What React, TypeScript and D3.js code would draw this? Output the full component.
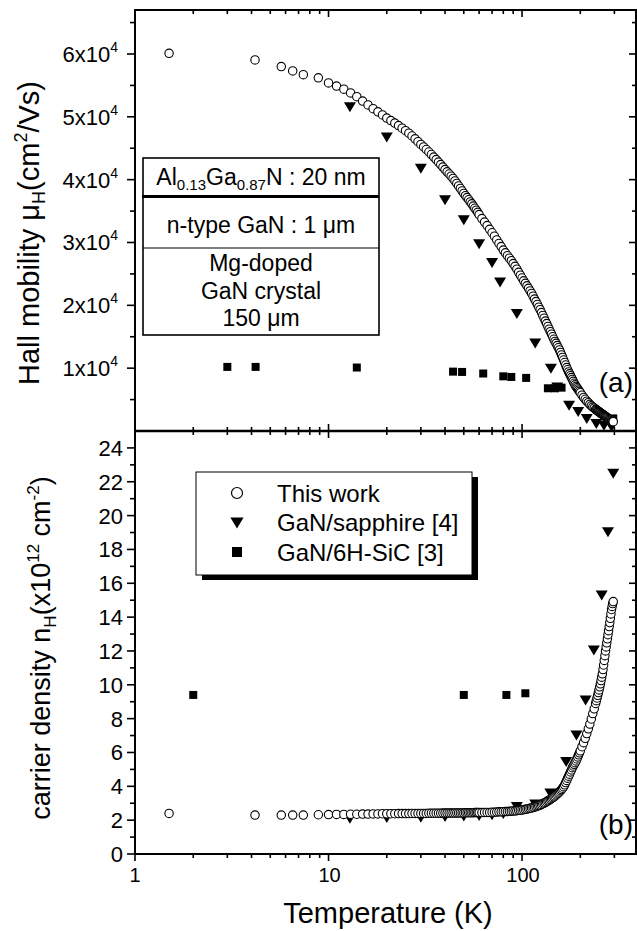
import React from "react";
import * as d3 from "d3";

// ---------- data ----------
const tempThis = [1.5, 4.17, 5.7, 6.53, 7.41, 8.86, 10, 11, 12, 13, 14, 15, 16, 17, 18, 19, 20,
  21, 22, 23, 24, 25, 26, 27, 28, 29, 30, 31, 32, 33, 34, 35, 36, 37, 38, 39, 40,
  41, 42, 43, 44, 45, 46, 47, 48, 49, 50, 51, 52, 53, 54, 55, 56, 57, 58, 59, 60,
  62, 64, 66, 68, 70, 72, 74, 76, 78, 80, 82, 84, 86, 88, 90, 92, 94, 96, 98, 100,
  102, 104, 106, 108, 110, 112, 114, 116, 118, 120, 122, 124, 126, 128, 130, 132, 134, 136, 138, 140,
  142, 144, 146, 148, 150, 152, 154, 156, 158, 160, 162, 164, 166, 168, 170, 172, 174, 176, 178, 180,
  182, 184, 186, 188, 190, 192, 194, 196, 198, 200,
  204, 208, 212, 216, 220, 224, 228, 232, 236, 240,
  242, 244, 246, 248, 250, 252, 254, 256, 258, 260, 262, 264, 266, 268, 270,
  272, 274, 276, 278, 280, 282, 284, 286, 288, 290, 292, 294, 296];
const mobilityThis = [60100, 59050, 58000, 57300, 56700, 56200, 55400, 54900, 54400, 53800, 53200, 52500, 51900, 51300, 50800, 50300, 49800,
  49400, 49000, 48600, 48200, 47800, 47400, 46950, 46500, 46050, 45600, 45200, 44800, 44400, 44000, 43600, 43200, 42800, 42400, 42000, 41600,
  41250, 40900, 40550, 40200, 39800, 39400, 39000, 38600, 38200, 37800, 37450, 37150, 36800, 36450, 36150, 35800, 35450, 35150, 34800, 34450,
  33800, 33250, 32700, 32100, 31550, 31000, 30400, 29850, 29350, 28800, 28350, 27900, 27500, 27100, 26650, 26200, 25750, 25250, 24800, 24350,
  23900, 23500, 23100, 22700, 22300, 21900, 21450, 21000, 20600, 20150, 19700, 19300, 18850, 18400, 17950, 17500, 17100, 16650, 16200, 15800,
  15400, 15000, 14600, 14250, 13950, 13600, 13250, 12900, 12500, 12100, 11700, 11300, 10900, 10500, 10100, 9750, 9400, 9100, 8800, 8500,
  8200, 7900, 7600, 7350, 7100, 6900, 6700, 6500, 6300, 6100,
  5700, 5350, 5050, 4750, 4500, 4250, 4000, 3800, 3650, 3450,
  3370, 3290, 3210, 3130, 3050, 2970, 2890, 2810, 2730, 2650, 2590, 2530, 2460, 2380, 2300,
  2240, 2180, 2110, 2030, 1950, 1890, 1830, 1770, 1710, 1650, 1590, 1530, 1480];
const densityThis = [2.40, 2.30, 2.30, 2.30, 2.30, 2.32, 2.33, 2.34, 2.34, 2.35, 2.35, 2.36, 2.36, 2.37, 2.37, 2.38, 2.38,
  2.38, 2.38, 2.39, 2.39, 2.39, 2.39, 2.40, 2.40, 2.40, 2.40, 2.40, 2.40, 2.41, 2.41, 2.41, 2.41, 2.41, 2.41, 2.42, 2.42,
  2.42, 2.42, 2.42, 2.42, 2.43, 2.43, 2.43, 2.43, 2.43, 2.43, 2.44, 2.44, 2.44, 2.44, 2.44, 2.44, 2.45, 2.45, 2.45, 2.45,
  2.45, 2.46, 2.46, 2.46, 2.47, 2.47, 2.48, 2.49, 2.49, 2.50, 2.51, 2.51, 2.52, 2.53, 2.54, 2.55, 2.56, 2.58, 2.59, 2.60,
  2.62, 2.64, 2.66, 2.68, 2.70, 2.72, 2.75, 2.77, 2.80, 2.83, 2.86, 2.89, 2.93, 2.97, 3.01, 3.05, 3.09, 3.14, 3.18, 3.23,
  3.28, 3.33, 3.38, 3.43, 3.49, 3.55, 3.61, 3.67, 3.74, 3.81, 3.89, 3.98, 4.09, 4.22, 4.35, 4.48, 4.60, 4.72, 4.85, 4.97,
  5.10, 5.20, 5.30, 5.40, 5.50, 5.62, 5.74, 5.86, 5.98, 6.10,
  6.34, 6.58, 6.84, 7.12, 7.40, 7.68, 7.98, 8.30, 8.58, 8.90,
  9.06, 9.22, 9.38, 9.54, 9.70, 9.88, 10.06, 10.25, 10.45, 10.65, 10.90, 11.17, 11.44, 11.72, 12.00,
  12.24, 12.48, 12.72, 12.96, 13.20, 13.44, 13.68, 13.93, 14.19, 14.45, 14.63, 14.80, 14.92];

const tempSapMob = [12.9, 20, 30, 40, 50, 60, 70, 77, 94, 117, 141, 152, 175, 195, 216, 242, 265, 290];
const mobilitySap = [51600, 46800, 41800, 36800, 33600, 29800, 26800, 23700, 18700, 14000, 10000, 7000, 4100, 3100, 2000, 1200, 900, 700];
const tempSapDen = [12.9, 20, 30, 40, 50, 60, 70, 80, 94, 117, 140, 169, 191, 213, 235, 258, 278, 296];
const densitySap = [2.11, 2.15, 2.17, 2.22, 2.25, 2.27, 2.32, 2.40, 2.80, 2.95, 3.60, 5.46, 7.03, 9.10, 12.06, 15.30, 19.05, 22.50];

const tempSicMob = [3.0, 4.2, 14, 44, 49, 63, 80, 88, 105, 136, 148, 160, 296];
const mobilitySic = [10200, 10200, 10100, 9450, 9400, 9150, 8700, 8600, 8450, 6800, 6800, 6900, 2000];
const tempSicDen = [2.0, 50, 83, 104];
const densitySic = [9.4, 9.4, 9.4, 9.5];

const mobMajor = [10000, 20000, 30000, 40000, 50000, 60000];
const mobMinor = [5000, 15000, 25000, 35000, 45000, 55000, 65000];
const denMajor = [0, 2, 4, 6, 8, 10, 12, 14, 16, 18, 20, 22, 24];
const denMinor = [1, 3, 5, 7, 9, 11, 13, 15, 17, 19, 21, 23];
const xLabels = [1, 10, 100];

const legendItems = ["This work", "GaN/sapphire [4]", "GaN/6H-SiC [3]"];

// ---------- layout ----------
const W = 637, H = 931;
const L = 135, R = 636, TOP = 10, MID = 431, BOT = 854;
const FF = "'Liberation Sans', Arial, Helvetica, sans-serif";

const x = d3.scaleLog().domain([1, 388]).range([L, R]);
const yA = d3.scaleLinear().domain([0, 67000]).range([MID, TOP]);
const yB = d3.scaleLinear().domain([0, 25]).range([BOT, MID]);

const xTicksAll = x.ticks();
const isMajorX = (v: number) => xLabels.includes(v);

const tri = "M-6,-4.5 L6,-4.5 L0,5.5 Z";

function Circles({ xs, ys, y }: { xs: number[]; ys: number[]; y: any }) {
  return (
    <g>
      {xs.map((t, i) => (
        <circle key={i} cx={x(t)} cy={y(ys[i])} r={4.2} fill="#fff" stroke="#000" strokeWidth={1.1} />
      ))}
    </g>
  );
}
function Tris({ xs, ys, y }: { xs: number[]; ys: number[]; y: any }) {
  return (
    <g>
      {xs.map((t, i) => (
        <path key={i} d={tri} transform={`translate(${x(t)},${y(ys[i])})`} fill="#000" />
      ))}
    </g>
  );
}
function Squares({ xs, ys, y }: { xs: number[]; ys: number[]; y: any }) {
  return (
    <g>
      {xs.map((t, i) => (
        <rect key={i} x={x(t) - 4} y={y(ys[i]) - 4} width={8} height={8} fill="#000" />
      ))}
    </g>
  );
}

export default function App() {
  return (
    <svg width={W} height={H} style={{ position: "absolute", left: 0, top: 0, background: "#fff" }} fontFamily={FF}>
      <rect x={0} y={0} width={W} height={H} fill="#fff" />

      {/* x ticks */}
      {xTicksAll.map((v, i) => {
        const len = isMajorX(v) ? 7 : 4;
        const px = x(v);
        return (
          <g key={"xt" + i} stroke="#000" strokeWidth={1.6}>
            <line x1={px} x2={px} y1={TOP} y2={TOP + len} />
            <line x1={px} x2={px} y1={MID - len} y2={MID + len} />
            <line x1={px} x2={px} y1={BOT} y2={BOT + len} />
          </g>
        );
      })}
      {xLabels.map((v) => (
        <text key={"xl" + v} x={x(v) + (v === 1 ? 0 : 1)} y={882} fontSize={20} textAnchor="middle">{v}</text>
      ))}

      {/* top panel y ticks */}
      {mobMajor.map((v) => (
        <g key={"ma" + v} stroke="#000" strokeWidth={1.6}>
          <line x1={L - 8} x2={L} y1={yA(v)} y2={yA(v)} />
          <line x1={R - 7} x2={R} y1={yA(v)} y2={yA(v)} />
        </g>
      ))}
      {mobMinor.map((v) => (
        <g key={"mi" + v} stroke="#000" strokeWidth={1.6}>
          <line x1={L - 5} x2={L} y1={yA(v)} y2={yA(v)} />
          <line x1={R - 4} x2={R} y1={yA(v)} y2={yA(v)} />
        </g>
      ))}
      {mobMajor.map((v) => (
        <text key={"mal" + v} x={118} y={yA(v)} dy="0.36em" fontSize={22} textAnchor="end">
          {`${v / 10000}x10`}
          <tspan fontSize={14} dy={-10}>4</tspan>
        </text>
      ))}

      {/* bottom panel y ticks */}
      {denMajor.map((v) => (
        <g key={"da" + v} stroke="#000" strokeWidth={1.6}>
          <line x1={L - 8} x2={L} y1={yB(v)} y2={yB(v)} />
          <line x1={R - 7} x2={R} y1={yB(v)} y2={yB(v)} />
        </g>
      ))}
      {denMinor.map((v) => (
        <g key={"di" + v} stroke="#000" strokeWidth={1.6}>
          <line x1={L - 5} x2={L} y1={yB(v)} y2={yB(v)} />
          <line x1={R - 4} x2={R} y1={yB(v)} y2={yB(v)} />
        </g>
      ))}
      {denMajor.map((v) => (
        <text key={"dal" + v} x={123} y={yB(v)} dy="0.36em" fontSize={22} textAnchor="end">{v}</text>
      ))}

      {/* inset box */}
      <g>
        <rect x={143} y={158} width={236} height={177} fill="#fff" stroke="#000" strokeWidth={1.6} />
        <line x1={142} x2={379} y1={196.5} y2={196.5} stroke="#000" strokeWidth={3.2} />
        <line x1={143} x2={379} y1={248} y2={248} stroke="#000" strokeWidth={1.2} />
        <text x={261} y={185} fontSize={23} textAnchor="middle">
          Al<tspan fontSize={15} dy={5}>0.13</tspan><tspan dy={-5}>Ga</tspan><tspan fontSize={15} dy={5}>0.87</tspan><tspan dy={-5}>N : 20 nm</tspan>
        </text>
        <text x={261} y={233} fontSize={23} textAnchor="middle">n-type GaN : 1 μm</text>
        <text x={261} y={271} fontSize={23} textAnchor="middle">Mg-doped</text>
        <text x={261} y={299} fontSize={23} textAnchor="middle">GaN crystal</text>
        <text x={261} y={326} fontSize={23} textAnchor="middle">150 μm</text>
      </g>

      {/* legend */}
      <g>
        <rect x={202} y={477} width={276} height={103} fill="#000" />
        <rect x={196} y={472} width={276} height={103} fill="#fff" stroke="#000" strokeWidth={1} />
        {legendItems.map((s, i) => {
          const cy = 493 + i * 29.5;
          return (
            <g key={s}>
              {i === 0 && <circle cx={237} cy={cy} r={5.5} fill="#fff" stroke="#000" strokeWidth={1.2} />}
              {i === 1 && <path d={tri} transform={`translate(237,${cy}) scale(1.1)`} fill="#000" />}
              {i === 2 && <rect x={232} y={cy - 5} width={10} height={10} fill="#000" />}
              <text x={277} y={cy + 8.5} fontSize={24}>{s}</text>
            </g>
          );
        })}
      </g>

      {/* data: top panel */}
      <Squares xs={tempSicMob} ys={mobilitySic} y={yA} />
      <Tris xs={tempSapMob} ys={mobilitySap} y={yA} />
      <Circles xs={tempThis} ys={mobilityThis} y={yA} />

      {/* data: bottom panel */}
      <Squares xs={tempSicDen} ys={densitySic} y={yB} />
      <Tris xs={tempSapDen} ys={densitySap} y={yB} />
      <Circles xs={tempThis} ys={densityThis} y={yB} />

      {/* frames */}
      <rect x={L} y={TOP} width={R - L} height={BOT - TOP} fill="none" stroke="#000" strokeWidth={2} />
      <line x1={L} x2={R} y1={MID} y2={MID} stroke="#000" strokeWidth={2.4} />

      {/* panel labels */}
      <text x={633} y={392} fontSize={28} textAnchor="end">(a)</text>
      <text x={633} y={834} fontSize={28} textAnchor="end">(b)</text>

      {/* axis titles */}
      <text transform="translate(39,233) rotate(-90)" fontSize={29} textAnchor="middle">
        Hall mobility μ<tspan fontSize={18} dy={6}>H</tspan><tspan dy={-6}>(cm</tspan><tspan fontSize={18} dy={-12}>2</tspan><tspan dy={12}>/Vs)</tspan>
      </text>
      <text transform="translate(50,648) rotate(-90)" fontSize={27} textAnchor="middle">
        carrier density n<tspan fontSize={17} dy={6}>H</tspan><tspan dy={-6}>(x10</tspan><tspan fontSize={17} dy={-11}>12</tspan><tspan dy={11}> cm</tspan><tspan fontSize={17} dy={-11}>-2</tspan><tspan dy={11}>)</tspan>
      </text>
      <text x={388} y={923} fontSize={29} textAnchor="middle">Temperature (K)</text>
    </svg>
  );
}
